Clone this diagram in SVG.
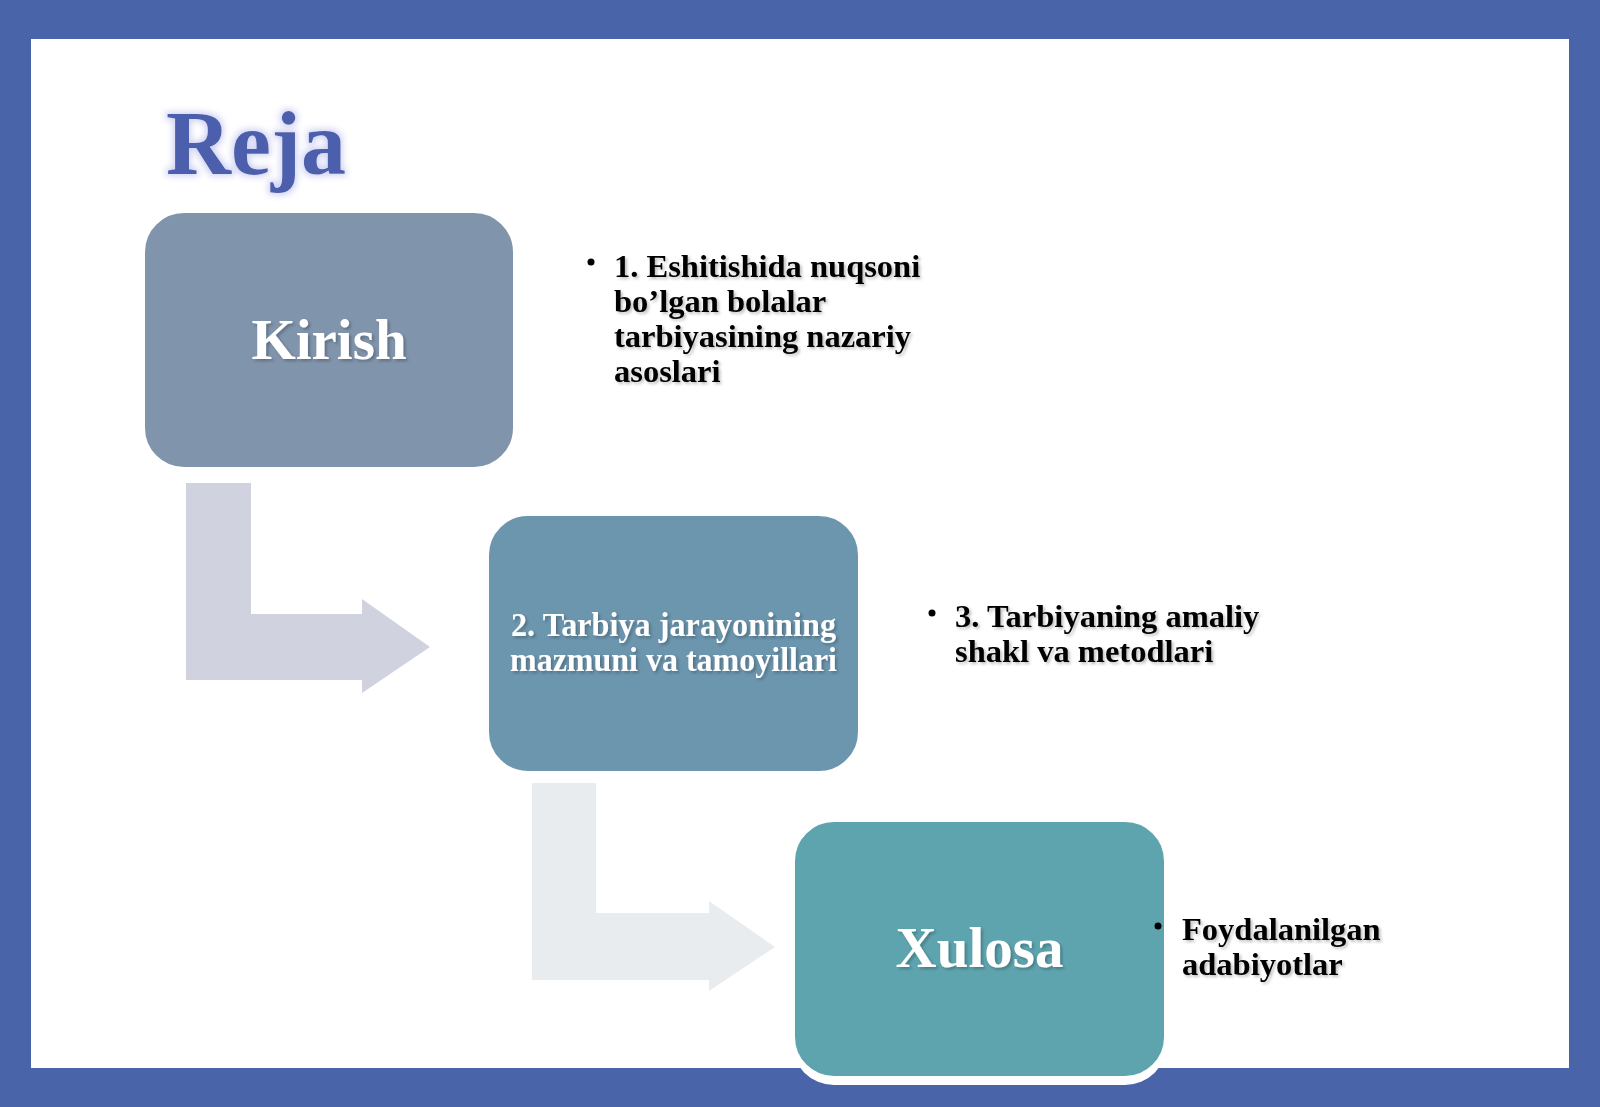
<svg xmlns="http://www.w3.org/2000/svg" width="1600" height="1107" viewBox="0 0 1600 1107">
  <defs>
    <filter id="glow" x="-20%" y="-30%" width="140%" height="160%">
      <feMorphology in="SourceAlpha" operator="dilate" radius="2" result="d"/>
      <feGaussianBlur in="d" stdDeviation="3" result="b"/>
      <feFlood flood-color="#c9cdf2" flood-opacity="0.9"/>
      <feComposite in2="b" operator="in" result="g"/>
      <feMerge><feMergeNode in="g"/><feMergeNode in="SourceGraphic"/></feMerge>
    </filter>
    <filter id="tshadow" x="-10%" y="-20%" width="120%" height="140%">
      <feGaussianBlur in="SourceAlpha" stdDeviation="1.5" result="b"/>
      <feOffset in="b" dx="2" dy="2" result="o"/>
      <feFlood flood-color="#000" flood-opacity="0.25"/>
      <feComposite in2="o" operator="in" result="s"/>
      <feMerge><feMergeNode in="s"/><feMergeNode in="SourceGraphic"/></feMerge>
    </filter>
    <style>
      .box { stroke: #ffffff; stroke-width: 2; }
      .lbl { font-family: "Liberation Serif", "Times New Roman", serif; font-weight: bold; fill: #ffffff; text-anchor: middle; }
      .note { font-family: "Liberation Serif", "Times New Roman", serif; font-weight: bold; font-size: 32.5px; fill: #000000; }
      .bullet { fill: #000000; }
    </style>
  </defs>

  <rect x="0" y="0" width="1600" height="1107" fill="#4a64aa"/>
  <rect x="31" y="39" width="1538" height="1029" fill="#ffffff"/>

  <text id="title" x="166" y="174" font-family="Liberation Serif, Times New Roman, serif" font-weight="bold" font-size="90" fill="#4b5eac" filter="url(#glow)">Reja</text>

  <g id="connectors">
    <path d="M186,483 H251 V614 H362 V599 L430,647 L362,693 V680 H186 Z" fill="#d0d3df"/>
    <path d="M532,783 H596 V913 H709 V901 L775,947 L709,991 V980 H532 Z" fill="#e9ecee"/>
  </g>

  <g id="node-kirish">
    <rect class="box" x="144" y="212" width="370" height="256" rx="40" fill="#8094ac"/>
    <text class="lbl" x="329" y="359" font-size="57" filter="url(#tshadow)">Kirish</text>
  </g>

  <g id="node-tarbiya">
    <rect class="box" x="488" y="515" width="371" height="257" rx="40" fill="#6c96ae"/>
    <text class="lbl" x="673.5" y="636" font-size="34" filter="url(#tshadow)" textLength="325" lengthAdjust="spacingAndGlyphs">2. Tarbiya jarayonining</text>
    <text class="lbl" x="673.5" y="671" font-size="34" filter="url(#tshadow)" textLength="327" lengthAdjust="spacingAndGlyphs">mazmuni va tamoyillari</text>
  </g>

  <g id="node-xulosa">
    <rect x="792" y="821" width="375" height="264" rx="42" fill="#ffffff"/>
    <rect class="box" x="794" y="821" width="371" height="256" rx="40" fill="#5ea4af"/>
    <text class="lbl" x="979.5" y="967" font-size="57" filter="url(#tshadow)">Xulosa</text>
  </g>

  <g id="note-1">
    <circle class="bullet" cx="591" cy="262" r="3.5"/>
    <text class="note" filter="url(#tshadow)">
      <tspan x="614" y="277">1. Eshitishida nuqsoni</tspan>
      <tspan x="614" y="312">bo’lgan bolalar</tspan>
      <tspan x="614" y="347">tarbiyasining nazariy</tspan>
      <tspan x="614" y="382">asoslari</tspan>
    </text>
  </g>

  <g id="note-3">
    <circle class="bullet" cx="932" cy="613" r="3.5"/>
    <text class="note" filter="url(#tshadow)">
      <tspan x="955" y="627">3. Tarbiyaning amaliy</tspan>
      <tspan x="955" y="662">shakl va metodlari</tspan>
    </text>
  </g>

  <g id="note-foyd">
    <circle class="bullet" cx="1158" cy="926" r="3.5"/>
    <text class="note" filter="url(#tshadow)">
      <tspan x="1182" y="940">Foydalanilgan</tspan>
      <tspan x="1182" y="975">adabiyotlar</tspan>
    </text>
  </g>
</svg>
